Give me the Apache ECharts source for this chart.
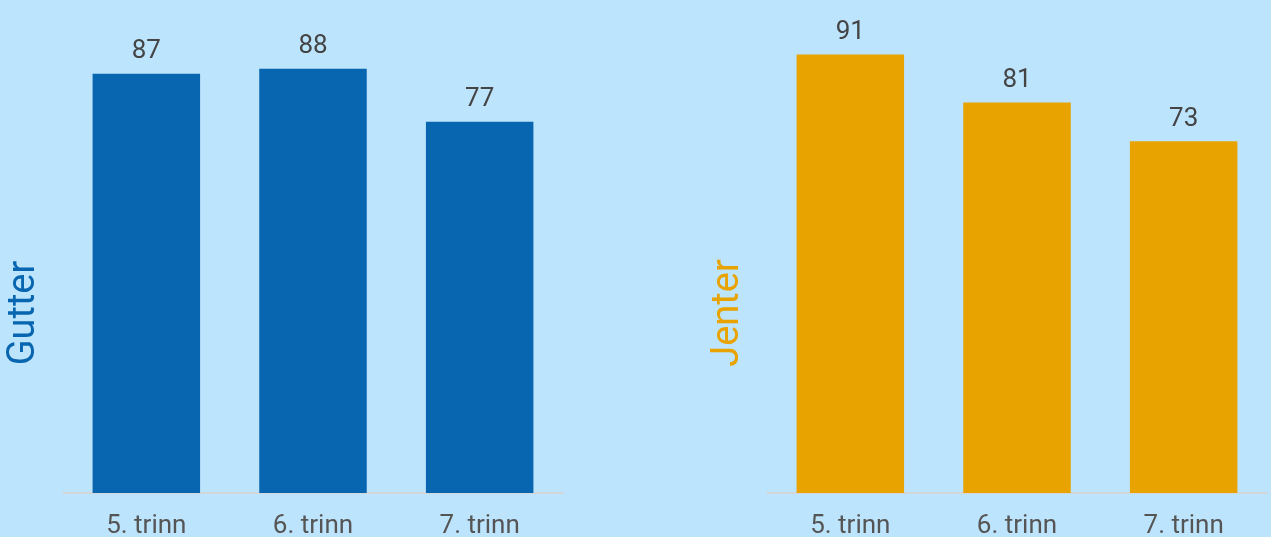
<!DOCTYPE html>
<html>
<head>
<meta charset="utf-8">
<script src="https://cdn.jsdelivr.net/npm/echarts@6/dist/echarts.min.js"></script>
<style>
html,body{margin:0;padding:0;background:#BDE4FD;}
#chart{width:1271px;height:537px;}
</style>
</head>
<body>
<div id="chart"></div>
<script>
const categories = ['5. trinn', '6. trinn', '7. trinn'];
const gutter = [87, 88, 77];
const jenter = [91, 81, 73];
const seriesNames = ['Gutter', 'Jenter'];

const blue = '#0866B0';
const orange = '#E8A300';

const chart = echarts.init(document.getElementById('chart'));
const xAxisBase = {
  type: 'category',
  data: categories,
  axisTick: {show: false},
  axisLine: {lineStyle: {color: '#D3D7DC', width: 2}},
  axisLabel: {fontFamily: 'Roboto', fontSize: 26, color: '#555', margin: 20}
};
const yAxisBase = {type: 'value', min: 0, max: 100, show: false, splitLine: {show: false}};
const labelBase = {show: true, position: 'top', distance: 9, fontFamily: 'Roboto', fontSize: 26, color: '#444'};

chart.setOption({
  backgroundColor: '#BDE4FD',
  animation: false,
  grid: [
    {left: 63, width: 500, top: 11, height: 482, outerBoundsMode: 'none', containLabel: false},
    {left: 767, width: 500, top: 11, height: 482, outerBoundsMode: 'none', containLabel: false}
  ],
  xAxis: [
    Object.assign({gridIndex: 0}, xAxisBase),
    Object.assign({gridIndex: 1}, xAxisBase)
  ],
  yAxis: [
    Object.assign({gridIndex: 0}, yAxisBase),
    Object.assign({gridIndex: 1}, yAxisBase)
  ],
  graphic: [
    {type: 'text', x: 24, y: 313, rotation: Math.PI / 2,
     style: {text: seriesNames[0], fontFamily: 'Roboto', fontSize: 38, fill: blue, align: 'center', verticalAlign: 'middle'}},
    {type: 'text', x: 728, y: 313, rotation: Math.PI / 2,
     style: {text: seriesNames[1], fontFamily: 'Roboto', fontSize: 38, fill: orange, align: 'center', verticalAlign: 'middle'}}
  ],
  series: [
    {name: seriesNames[0], type: 'bar', xAxisIndex: 0, yAxisIndex: 0, data: gutter, barWidth: '64.5%',
     itemStyle: {color: blue}, label: labelBase},
    {name: seriesNames[1], type: 'bar', xAxisIndex: 1, yAxisIndex: 1, data: jenter, barWidth: '64.5%',
     itemStyle: {color: orange}, label: labelBase}
  ]
});
</script>
</body>
</html>
